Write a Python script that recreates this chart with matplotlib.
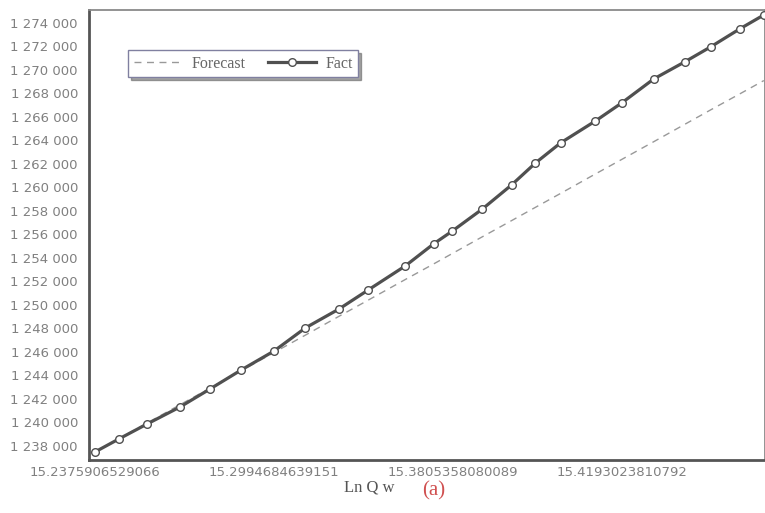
import matplotlib

matplotlib.use("Agg")
import matplotlib.pyplot as plt
from matplotlib.ticker import FuncFormatter


# position of each observation along the axis (units = mean point spacing)
x_pos = [0.00, 0.82, 1.79, 2.92, 3.95, 5.02, 6.15, 7.22, 8.38, 9.38, 10.65, 11.62,
         12.27, 13.30, 14.30, 15.12, 15.98, 17.18, 18.08, 19.18, 20.24, 21.13, 22.13, 22.96]

fact = [1237490, 1238595, 1239871, 1241316, 1242847, 1244462, 1246078, 1248034,
        1249649, 1251265, 1253305, 1255176, 1256281, 1258152, 1260193, 1262063,
        1263764, 1265635, 1267165, 1269206, 1270652, 1271927, 1273458, 1274648]

forecast = [1237490, 1238620, 1239950, 1241510, 1242920, 1244390, 1245950, 1247420,
            1249030, 1250400, 1252150, 1253470, 1254370, 1255790, 1257160, 1258290,
            1259470, 1261130, 1262360, 1263870, 1265340, 1266570, 1267930, 1269070]

tick_idx = [0, 6, 12, 18]
tick_labels = ["15.2375906529066", "15.2994684639151", "15.3805358080089", "15.4193023810792"]
y_ticks = list(range(1238000, 1274001, 2000))

GRAY_TXT = "#808080"
LINE = "#505050"

fig = plt.figure(figsize=(7.65, 5.13), dpi=100)
fig.patch.set_facecolor("white")
ax = fig.add_axes([89 / 765, 1 - 460 / 513, 676 / 765, 450 / 513])

ax.plot(x_pos, forecast, ls=(0, (5, 4)), color="#999999", lw=1.0, label="Forecast", clip_on=False)
ax.plot(x_pos, fact, color=LINE, lw=2.3, marker="o", ms=5.5, mfc="white", mec=LINE, mew=1.0,
        label="Fact", clip_on=False, zorder=3)

ax.set_xlim(-0.21, 23.0)
ax.set_ylim(1236800, 1275070)

ax.set_xticks([x_pos[i] for i in tick_idx], tick_labels)
ax.set_yticks(y_ticks)
ax.yaxis.set_major_formatter(FuncFormatter(lambda v, p: f"{int(v):,}".replace(",", " ")))
ax.tick_params(axis="both", length=0, labelsize=9.5, labelcolor=GRAY_TXT)
ax.tick_params(axis="y", pad=8)
ax.tick_params(axis="x", pad=4)

for side in ["left", "bottom"]:
    ax.spines[side].set_linewidth(2.0)
    ax.spines[side].set_color("#555555")
ax.spines["top"].set_linewidth(1.3)
ax.spines["top"].set_color("#8a8a8a")
ax.spines["right"].set_linewidth(1.3)
ax.spines["right"].set_color("#8a8a8a")

leg = ax.legend(loc="upper left", bbox_to_anchor=(0.058, 0.911), borderaxespad=0, ncol=2,
                frameon=True, fancybox=False, shadow=True, handlelength=3.0, columnspacing=1.4,
                handletextpad=0.6, borderpad=0.35,
                prop={"family": "Liberation Serif", "size": 11.5})
leg.get_frame().set_edgecolor("#8080a0")
leg.get_frame().set_linewidth(1.0)
for t in leg.get_texts():
    t.set_color("#666666")

fig.text(369 / 765, 1 - 488 / 513, "Ln Q w", family="Liberation Serif", size=12,
         color="#555555", ha="center", va="center")
fig.text(434 / 765, 1 - 491 / 513, "(a)", family="Liberation Serif", size=15,
         color="#d05050", ha="center", va="center")

fig.savefig("out.png", dpi=100)
